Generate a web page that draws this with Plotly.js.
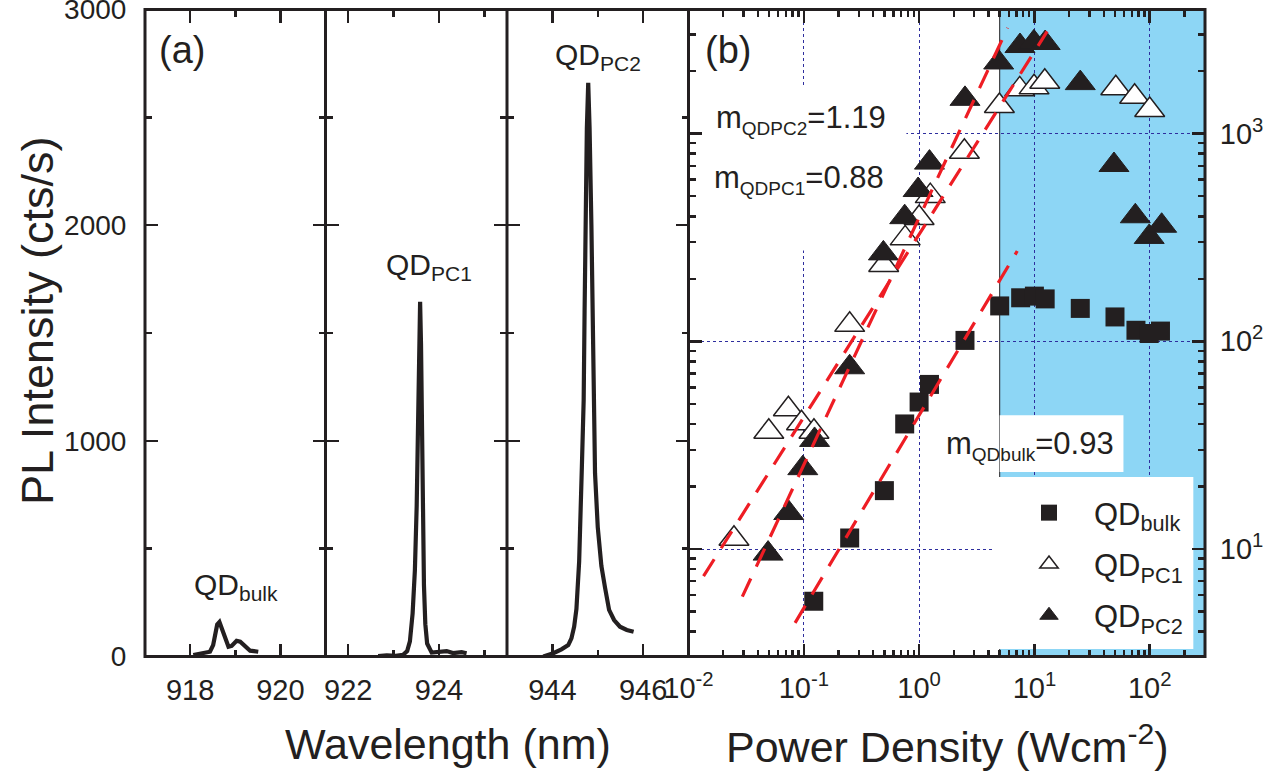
<!DOCTYPE html>
<html>
<head>
<meta charset="utf-8">
<script src="https://cdn.plot.ly/plotly-3.0.1.min.js"></script>
<style>html,body{margin:0;padding:0;background:#fff;}</style>
</head>
<body>
<div id="chart" style="width:1270px;height:782px;"></div>
<script>
// ---------- Panel (a): PL spectra ----------
const bulkWl = [918.07, 918.29, 918.44, 918.51, 918.55, 918.60, 918.65, 918.70, 918.77, 918.85, 918.92, 919.03, 919.11, 919.22, 919.33, 919.51];
const bulkPL = [7, 15, 22, 53, 107, 148, 160, 131, 89, 45, 49, 73, 69, 45, 27, 22];

const pc1Wl = [922.66, 922.85, 923.05, 923.21, 923.30, 923.36, 923.42, 923.47, 923.51, 923.54, 923.565, 923.585, 923.605, 923.63, 923.65, 923.67, 923.70, 923.74, 923.84, 924.02, 924.17, 924.31, 924.50, 924.61];
const pc1PL = [2, 5, 3, 8, 25, 70, 200, 400, 700, 1100, 1450, 1645, 1450, 1000, 600, 330, 150, 60, 18, 20, 25, 16, 20, 15];

const pc2Wl = [943.80, 944.02, 944.20, 944.35, 944.42, 944.48, 944.53, 944.59, 944.65, 944.69, 944.71, 944.73, 944.76, 944.79, 944.82, 944.86, 944.88, 944.90, 944.94, 945.00, 945.08, 945.16, 945.25, 945.36, 945.49, 945.64, 945.79];
const pc2PL = [0, 15, 33, 53, 84, 138, 220, 440, 880, 1190, 1600, 2000, 2450, 2660, 2450, 2000, 1600, 1190, 850, 600, 420, 320, 216, 169, 138, 123, 115];

// ---------- Panel (b): power dependence ----------
const bulkP = [0.122, 0.25, 0.5, 0.75, 1.0, 1.23, 2.5, 5.0, 7.6, 10, 12.4, 25, 50, 76, 99, 124];
const bulkI = [5.6, 11.3, 19.1, 40, 51, 62, 101, 148, 162, 165, 160, 144, 131, 113, 109, 112];

const pc1P = [0.0248, 0.0497, 0.0735, 0.0955, 0.1225, 0.25, 0.493, 0.757, 1.0, 1.25, 2.47, 4.97, 7.46, 9.93, 12.3, 50.8, 74, 100];
const pc1I = [11.2, 36.7, 47.1, 40.3, 36.7, 120, 233, 313, 392, 500, 818, 1358, 1633, 1670, 1778, 1652, 1506, 1299];

const pc2P = [0.049, 0.074, 0.098, 0.124, 0.25, 0.49, 0.75, 0.98, 1.23, 2.5, 4.9, 7.5, 9.9, 12.4, 25, 49, 75, 99, 127];
const pc2I = [9.5, 14.9, 24.5, 33.5, 75, 265, 396, 535, 725, 1470, 2200, 2640, 2750, 2730, 1750, 706, 400, 318, 360];

// fitted power-law lines (end points)
const fitPC2P = [0.0293, 5.86];  const fitPC2I = [5.9, 3230];
const fitPC1P = [0.0135, 12.9];  const fitPC1I = [7.4, 3105];
const fitBulkP = [0.084, 7.1];   const fitBulkI = [4.41, 272];

const SUB = t => '<sub><span style="font-size:19px">' + t + '</span></sub>';
const slopeLabels = ['m' + SUB('QDPC2') + '=1.19', 'm' + SUB('QDPC1') + '=0.88', 'm' + SUB('QDbulk') + '=0.93'];
const seriesNames = ['QD<sub>bulk</sub>', 'QD<sub>PC1</sub>', 'QD<sub>PC2</sub>'];
const peakLabels = ['QD<sub>bulk</sub>', 'QD<sub>PC1</sub>', 'QD<sub>PC2</sub>'];

// ---------- styling ----------
const W = 1270, H = 782;
const INK = '#231f20';
const FONT = 'Arial, "Liberation Sans", Helvetica, sans-serif';
const px = v => v / W;
const py = v => 1 - v / H;
const yDom = [py(656.5), py(9.5)];

function logMinor(lo, hi) {
  const v = [];
  for (let d = lo; d <= hi; d++) for (let k = 2; k <= 9; k++) v.push(k * Math.pow(10, d));
  return v;
}

const tickCommon = {
  ticks: 'inside', ticklen: 13, tickwidth: 2.5, tickcolor: INK,
  mirror: 'ticks', showline: true, linecolor: 'rgba(0,0,0,0)', linewidth: 1,
  zeroline: false, showgrid: false, ticklabeloverflow: 'allow',
  tickfont: {family: FONT, size: 29, color: INK}
};
const minorCommon = {ticks: 'inside', ticklen: 7, tickwidth: 2.5, tickcolor: INK, showgrid: false};

function wlAxis(dom, range, t0, anchor) {
  return Object.assign({}, tickCommon, {
    domain: dom, range: range, anchor: anchor,
    tickmode: 'linear', tick0: t0, dtick: 2,
    ticklabelstandoff: 8,
    minor: Object.assign({dtick: 1}, minorCommon)
  });
}
function plAxis(anchor, labels) {
  return Object.assign({}, tickCommon, {
    domain: yDom, range: [0, 3000], anchor: anchor,
    tickmode: 'linear', tick0: 0, dtick: 1000,
    showticklabels: labels, ticklabelstandoff: 12,
    tickfont: {family: FONT, size: 28, color: INK},
    minor: Object.assign({dtick: 500}, minorCommon)
  });
}

const GRID = '#2e2e9e';

const layout = {
  width: W, height: H,
  margin: {l: 0, r: 0, t: 0, b: 0},
  paper_bgcolor: '#ffffff', plot_bgcolor: 'rgba(0,0,0,0)',
  font: {family: FONT, color: INK},
  showlegend: true,
  xaxis: wlAxis([px(145), px(325.5)], [917, 921], 918, 'y'),
  xaxis2: wlAxis([px(325.5), px(507)], [921.5, 925.5], 922, 'y2'),
  xaxis3: wlAxis([px(507), px(688.5)], [943, 947], 944, 'y3'),
  yaxis: plAxis('x', true),
  yaxis2: plAxis('x2', false),
  yaxis3: plAxis('x3', false),
  xaxis4: Object.assign({}, tickCommon, {
    domain: [px(688.5), px(1205)], type: 'log', range: [-2, 2.4796], anchor: 'y4',
    tickmode: 'array', tickvals: [0.01, 0.1, 1, 10, 100],
    ticktext: ['10<sup>-2</sup>', '10<sup>-1</sup>', '10<sup>0</sup>', '10<sup>1</sup>', '10<sup>2</sup>'],
    ticklabelstandoff: 6,
    showgrid: true, gridcolor: GRID, gridwidth: 1, griddash: 'dot',
    minor: Object.assign({tickmode: 'array', tickvals: logMinor(-2, 2)}, minorCommon)
  }),
  yaxis4: Object.assign({}, tickCommon, {
    domain: yDom, type: 'log', range: [0.4824, 3.5975], anchor: 'x4', side: 'right',
    tickmode: 'array', tickvals: [10, 100, 1000],
    ticktext: ['10<sup>1</sup>', '10<sup>2</sup>', '10<sup>3</sup>'],
    ticklabelstandoff: 8,
    showgrid: true, gridcolor: GRID, gridwidth: 1, griddash: 'dot',
    minor: Object.assign({tickmode: 'array', tickvals: logMinor(0, 3)}, minorCommon)
  }),
  legend: {
    x: px(1004), xanchor: 'left', y: py(486), yanchor: 'top',
    bgcolor: 'rgba(0,0,0,0)', borderwidth: 0,
    font: {family: FONT, size: 31, color: INK},
    itemwidth: 80, tracegroupgap: 8, traceorder: 'grouped'
  },
  shapes: [
    // shaded high-power region
    {type: 'rect', xref: 'x4', yref: 'y4 domain', x0: 5, x1: 10000, y0: 0, y1: 1,
     fillcolor: '#8dd6f5', line: {width: 0}, layer: 'below'},
    {type: 'line', xref: 'x4', yref: 'y4 domain', x0: 5, x1: 5, y0: 0, y1: 1,
     line: {color: INK, width: 1}, layer: 'below'},
    // white label boxes (above grid, below data)
    {type: 'rect', xref: 'x4', yref: 'y4', x0: 0.001, x1: 0.776, y0: 274, y1: 1670,
     fillcolor: '#ffffff', line: {width: 0}, layer: 'between'},
    {type: 'rect', xref: 'x4', yref: 'y4', x0: 5, x1: 59.2, y0: 23.5, y1: 44.1,
     fillcolor: '#ffffff', line: {width: 0}, layer: 'between'},
    {type: 'rect', xref: 'x4', yref: 'y4', x0: 4.5, x1: 239, y0: 3.30, y1: 22.2,
     fillcolor: '#ffffff', line: {width: 0}, layer: 'between'},
    // frame
    {type: 'rect', xref: 'paper', yref: 'paper', x0: px(145), x1: px(1205), y0: yDom[0], y1: yDom[1],
     line: {color: INK, width: 3}, fillcolor: 'rgba(0,0,0,0)', layer: 'above'},
    {type: 'line', xref: 'paper', yref: 'paper', x0: px(325.5), x1: px(325.5), y0: yDom[0], y1: yDom[1],
     line: {color: INK, width: 3}, layer: 'above'},
    {type: 'line', xref: 'paper', yref: 'paper', x0: px(507), x1: px(507), y0: yDom[0], y1: yDom[1],
     line: {color: INK, width: 3}, layer: 'above'},
    {type: 'line', xref: 'paper', yref: 'paper', x0: px(688.5), x1: px(688.5), y0: yDom[0], y1: yDom[1],
     line: {color: INK, width: 3}, layer: 'above'}
  ],
  annotations: [
    {text: '(a)', x: px(157), y: py(50), xanchor: 'left', yanchor: 'middle', font: {size: 38}},
    {text: '(b)', x: px(703), y: py(50), xanchor: 'left', yanchor: 'middle', font: {size: 38}},
    {text: peakLabels[2], x: px(553), y: py(56), xanchor: 'left', yanchor: 'middle', font: {size: 30}},
    {text: peakLabels[1], x: px(384), y: py(266), xanchor: 'left', yanchor: 'middle', font: {size: 30}},
    {text: peakLabels[0], x: px(192), y: py(586), xanchor: 'left', yanchor: 'middle', font: {size: 30}},
    {text: slopeLabels[0], x: px(714), y: py(120), xanchor: 'left', yanchor: 'middle', font: {size: 31}},
    {text: slopeLabels[1], x: px(712), y: py(180), xanchor: 'left', yanchor: 'middle', font: {size: 31}},
    {text: slopeLabels[2], x: px(944), y: py(445), xanchor: 'left', yanchor: 'middle', font: {size: 31}},
    {text: 'Wavelength (nm)', x: px(448), y: py(744), xanchor: 'center', yanchor: 'middle', font: {size: 43}},
    {text: 'Power Density (Wcm<sup>-2</sup>)', x: px(947), y: py(744), xanchor: 'center', yanchor: 'middle', font: {size: 43}},
    {text: 'PL Intensity (cts/s)', x: px(37), y: py(321), xanchor: 'center', yanchor: 'middle', textangle: -90, font: {size: 45}}
  ].map(a => Object.assign({xref: 'paper', yref: 'paper', showarrow: false}, a, {font: Object.assign({family: FONT, color: INK}, a.font)}))
};

const specLine = {color: INK, width: 4.2};
const fitLine = {color: '#ee1d24', width: 3.2, dash: '20px,13px'};

const traces = [
  {x: bulkWl, y: bulkPL, xaxis: 'x', yaxis: 'y', mode: 'lines', line: specLine, showlegend: false, hoverinfo: 'skip'},
  {x: pc1Wl, y: pc1PL, xaxis: 'x2', yaxis: 'y2', mode: 'lines', line: specLine, showlegend: false, hoverinfo: 'skip'},
  {x: pc2Wl, y: pc2PL, xaxis: 'x3', yaxis: 'y3', mode: 'lines', line: specLine, showlegend: false, hoverinfo: 'skip'},
  {x: bulkP, y: bulkI, xaxis: 'x4', yaxis: 'y4', mode: 'markers', name: seriesNames[0], legendgroup: 'a',
   marker: {symbol: 'square', size: 19, color: INK, line: {width: 0}}},
  {x: pc1P, y: pc1I, xaxis: 'x4', yaxis: 'y4', mode: 'markers', name: seriesNames[1], legendgroup: 'b',
   marker: {symbol: 'triangle-up', size: 26, color: '#ffffff', line: {color: INK, width: 1.5}}},
  {x: pc2P, y: pc2I, xaxis: 'x4', yaxis: 'y4', mode: 'markers', name: seriesNames[2], legendgroup: 'c',
   marker: {symbol: 'triangle-up', size: 26, color: INK, line: {color: INK, width: 1}}},
  {x: fitPC1P, y: fitPC1I, xaxis: 'x4', yaxis: 'y4', mode: 'lines', line: fitLine, showlegend: false, hoverinfo: 'skip'},
  {x: fitPC2P, y: fitPC2I, xaxis: 'x4', yaxis: 'y4', mode: 'lines', line: fitLine, showlegend: false, hoverinfo: 'skip'},
  {x: fitBulkP, y: fitBulkI, xaxis: 'x4', yaxis: 'y4', mode: 'lines', line: fitLine, showlegend: false, hoverinfo: 'skip'}
];

Plotly.newPlot('chart', traces, layout, {staticPlot: true, displayModeBar: false});
</script>
</body>
</html>
